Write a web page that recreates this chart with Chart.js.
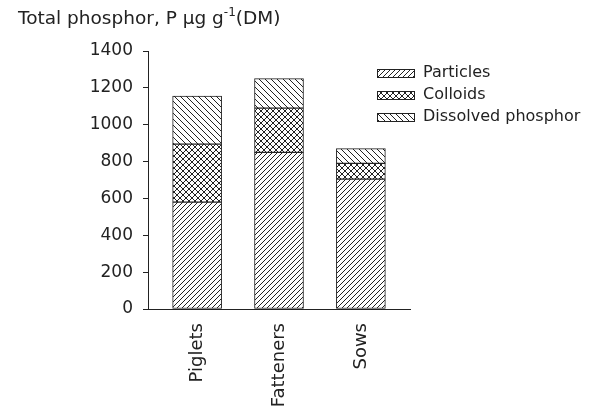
<!DOCTYPE html>
<html>
<head>
<meta charset="utf-8">
<script src="https://cdn.jsdelivr.net/npm/chart.js@4.4.1/dist/chart.umd.min.js"></script>
<style>
  html, body { margin: 0; padding: 0; background: #fff; }
  #wrap { width: 591px; height: 408px; position: relative; }
</style>
</head>
<body>
<div id="wrap"><canvas id="chart"></canvas></div>
<script>
const categories = ['Piglets', 'Fatteners', 'Sows'];
const particles = [580, 850, 705];
const colloids = [315, 240, 85];
const dissolved = [260, 160, 80];
const yTicks = [0, 200, 400, 600, 800, 1000, 1200, 1400];

const FONT = 'DejaVu Sans, Verdana, sans-serif';
const INK = '#222';

// hatch fills
function makePattern(kind, size) {
  const c = document.createElement('canvas');
  c.width = size; c.height = size;
  const g = c.getContext('2d');
  g.fillStyle = '#fff';
  g.fillRect(0, 0, size, size);
  g.strokeStyle = INK;
  g.lineWidth = 1;
  const fwd = () => {
    g.beginPath();
    for (let k = -1; k <= 1; k++) {
      g.moveTo(k * size, size);
      g.lineTo(k * size + size, 0);
    }
    g.stroke();
  };
  const back = () => {
    g.beginPath();
    for (let k = -1; k <= 1; k++) {
      g.moveTo(k * size, 0);
      g.lineTo(k * size + size, size);
    }
    g.stroke();
  };
  if (kind === 'fwd') fwd();
  if (kind === 'back') back();
  if (kind === 'cross') { fwd(); back(); }
  return g.createPattern(c, 'repeat');
}

const fills = [makePattern('fwd', 5), makePattern('cross', 6), makePattern('back', 6)];

function series(vals) {
  return vals.map((v, i) => ({ x: i, y: v }));
}

const titlePlugin = {
  id: 'axisTitle',
  afterDraw(chart) {
    const ctx = chart.ctx;
    ctx.save();
    ctx.fillStyle = INK;
    ctx.textBaseline = 'alphabetic';
    ctx.textAlign = 'left';
    let x = 18, y = 24;
    ctx.font = '18.5px ' + FONT;
    const a = 'Total phosphor, P µg g';
    ctx.fillText(a, x, y);
    x += ctx.measureText(a).width;
    ctx.font = '12px ' + FONT;
    ctx.fillText('-1', x, y - 8);
    x += ctx.measureText('-1').width;
    ctx.font = '18.5px ' + FONT;
    ctx.fillText('(DM)', x, y);
    ctx.restore();
  }
};

const legendPlugin = {
  id: 'boxLegend',
  afterDraw(chart) {
    const ctx = chart.ctx;
    ctx.save();
    chart.data.datasets.forEach((ds, i) => {
      const cy = 73 + i * 22;
      const bx = 377, bw = 37, bh = 8;
      const by = Math.round(cy - bh / 2);
      ctx.fillStyle = ds.backgroundColor;
      ctx.fillRect(bx, by, bw, bh);
      ctx.strokeStyle = INK;
      ctx.lineWidth = 1;
      ctx.strokeRect(bx + 0.5, by + 0.5, bw, bh);
      ctx.fillStyle = INK;
      ctx.font = '16px ' + FONT;
      ctx.textBaseline = 'middle';
      ctx.fillText(ds.label, 423, cy);
    });
    ctx.restore();
  }
};

new Chart(document.getElementById('chart'), {
  type: 'bar',
  data: {
    datasets: [
      { label: 'Particles', data: series(particles), backgroundColor: fills[0] },
      { label: 'Colloids', data: series(colloids), backgroundColor: fills[1] },
      { label: 'Dissolved phosphor', data: series(dissolved), backgroundColor: fills[2] }
    ]
  },
  options: {
    responsive: true,
    maintainAspectRatio: false,
    animation: false,
    layout: { padding: { left: 0, right: 181, top: 51, bottom: 0 } },
    datasets: {
      bar: {
        barThickness: 49,
        borderWidth: 1,
        borderColor: INK,
        borderSkipped: false
      }
    },
    plugins: {
      legend: { display: false },
      tooltip: { enabled: false }
    },
    scales: {
      x: {
        type: 'linear',
        stacked: true,
        offset: false,
        min: -0.6,
        max: 2.6,
        afterBuildTicks: (s) => { s.ticks = categories.map((c, i) => ({ value: i })); },
        afterFit: (s) => { s.height = 99; },
        grid: { display: false, offset: false },
        border: { display: true, color: INK, width: 1 },
        ticks: {
          callback: (v) => categories[v],
          minRotation: 90,
          maxRotation: 90,
          padding: 6,
          color: INK,
          font: { family: FONT, size: 18 }
        }
      },
      y: {
        stacked: true,
        min: 0,
        max: 1400,
        afterBuildTicks: (s) => { s.ticks = yTicks.map(v => ({ value: v })); },
        afterFit: (s) => { s.width = 148; },
        grid: { drawOnChartArea: false, tickLength: 5, color: INK },
        border: { display: true, color: INK, width: 1 },
        ticks: {
          callback: (v) => String(v),
          padding: 10,
          color: INK,
          font: { family: FONT, size: 17 }
        }
      }
    }
  },
  plugins: [titlePlugin, legendPlugin]
});
</script>
</body>
</html>
